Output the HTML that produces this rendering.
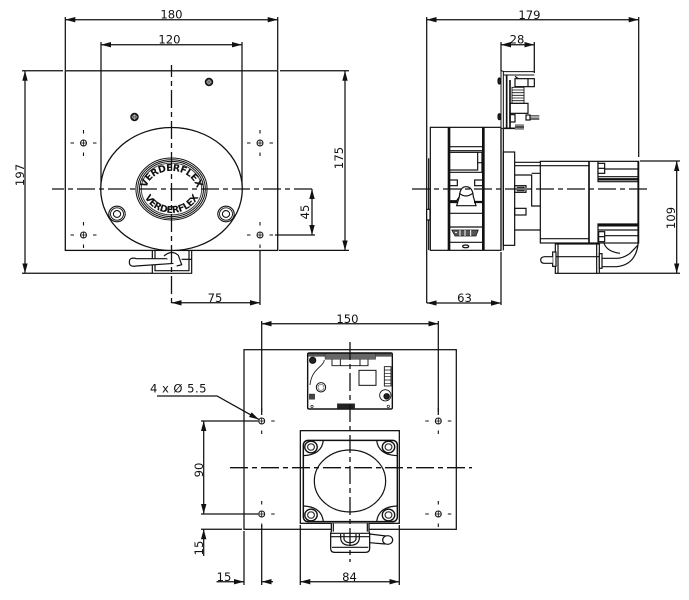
<!DOCTYPE html>
<html><head><meta charset="utf-8"><style>
html,body{margin:0;padding:0;background:#fff;width:689px;height:600px;overflow:hidden}
svg{display:block}
text{font-family:"DejaVu Sans","Liberation Sans",sans-serif;font-size:11.6px;fill:#111;stroke:none}
</style></head><body>
<svg width="689" height="600" viewBox="0 0 689 600" xmlns="http://www.w3.org/2000/svg">
<defs>
<marker id="a" viewBox="0 0 10 6" refX="10" refY="3" markerWidth="10" markerHeight="6" markerUnits="userSpaceOnUse" orient="auto-start-reverse"><path d="M0 0.3L10 3L0 5.7z" fill="#111"/></marker>
<g id="h"><circle r="3" fill="#fff" stroke="#111" stroke-width="1"/><path d="M-3 0H3M0-3V3" stroke="#111" stroke-width=".8"/><path d="M-13 0H-9.5M9.5 0H13M0-13V-9.5M0 9.5V13" stroke="#111" stroke-width="1.1"/></g>
<g id="s"><circle r="3.6" fill="#333"/><circle r="1.8" fill="none" stroke="#ddd" stroke-width=".5"/><path d="M-3 0H3M0-3V3" stroke="#ddd" stroke-width=".4"/></g>
<g id="w"><ellipse rx="8.2" ry="7.8" fill="#fff" stroke="#111" stroke-width="1.1"/><ellipse rx="6.5" ry="6.2" fill="none" stroke="#111" stroke-width=".9"/><ellipse rx="3.6" ry="3.4" fill="none" stroke="#111" stroke-width="1.1"/></g>
<g id="w2"><ellipse rx="6.2" ry="5.8" fill="#fff" stroke="#111" stroke-width="1.4"/><ellipse rx="3.4" ry="3.2" fill="none" stroke="#333" stroke-width="1.2"/></g>
<path id="t1" d="M147.5 199A25.5 21 0 1 1 195.5 199"/>
<path id="t2" d="M142 186A29.5 27 0 0 0 201 186"/>
</defs>

<g fill="none" stroke="#111" stroke-width="1.25">
<!-- TOP LEFT VIEW -->
<rect x="65.3" y="70.8" width="212.4" height="179.6" stroke-width="1.3"/>
<path d="M65.3 17V70M277.7 17V70M101 42V189M242 42V189"/>
<path d="M22 70.8H63M280 70.8H349M279 250.4H349M22 273.3H152M275 235H315M260 250V305" />
<path d="M65.3 19.7H277.7" marker-start="url(#a)" marker-end="url(#a)"/>
<path d="M101 44.7H242" marker-start="url(#a)" marker-end="url(#a)"/>
<path d="M25 70.8V273.3" marker-start="url(#a)" marker-end="url(#a)"/>
<path d="M345 70.8V250.4" marker-start="url(#a)" marker-end="url(#a)"/>
<path d="M312 189V235" marker-start="url(#a)" marker-end="url(#a)"/>
<path d="M171.5 302.8H260" marker-start="url(#a)" marker-end="url(#a)"/>

<!-- handle -->
<g transform="scale(.33333)" stroke-width="3.6">
<path d="M457 751V820H575V751M465 751V812H567V751M465 812H567" />
<path d="M535 776H410Q388 770 388 786Q388 802 408 798L525 790" fill="#fff"/>
<path d="M492 768Q515 748 535 766L545 794L530 798" fill="#fff"/>
<path d="M545 778H575"/>
</g>
<ellipse cx="171.5" cy="189" rx="70.8" ry="61.5" fill="#fff" stroke-width="1.3"/>
<g stroke-width="1">
<ellipse cx="171.5" cy="189" rx="35.6" ry="31"/>
<ellipse cx="171.5" cy="189" rx="33.8" ry="29.3"/>
<ellipse cx="171.5" cy="189" rx="32" ry="27.6"/>
<ellipse cx="171.5" cy="189" rx="30.2" ry="25.9" stroke="#444"/>
</g>
<use href="#w" x="117" y="214"/><use href="#w" x="226" y="214"/>
<use href="#h" x="83.5" y="143"/><use href="#h" x="260" y="143"/><use href="#h" x="83.5" y="235"/><use href="#h" x="260" y="235"/>
<use href="#s" x="134.5" y="117"/><use href="#s" x="209" y="82"/>
<path d="M52 189H315" stroke-dasharray="18 4 5 4" stroke-dashoffset="6" stroke-width="1.3"/>
<path d="M171.5 65V305" stroke-dasharray="18 4 5 4" stroke-dashoffset="6" stroke-width="1.3"/>

<!-- RIGHT VIEW -->
<path d="M426.7 17V303M638.7 17V157M501 42V71M534.3 42V73M501 252V305M640 161H680M600 273.3H680"/>
<path d="M426.7 19.7H638.7" marker-start="url(#a)" marker-end="url(#a)"/>
<path d="M501 44.7H534.3" marker-start="url(#a)" marker-end="url(#a)"/>
<path d="M426.7 303H501" marker-start="url(#a)" marker-end="url(#a)"/>
<path d="M676.7 161V273.3" marker-start="url(#a)" marker-end="url(#a)"/>
<g transform="translate(400 0) scale(.33333)" stroke-width="3.6">
<!-- pump -->
<rect x="91" y="382" width="212" height="369"/>
<path d="M147 382V751M250 382V751" stroke-width="8"/>
<path d="M150 440H248M150 452H248M150 517H248" />
<rect x="148" y="457" width="85" height="53"/>
<path d="M233 457H246V517M233 488H248"/>
<rect x="148" y="540" width="24" height="17"/><rect x="224" y="540" width="26" height="17"/>
<path d="M150 602H170L178 590Q180 560 198 560Q218 560 220 590L228 617H170L178 590M178 580Q198 596 218 580" fill="#fff"/>
<path d="M150 606H172M222 606H250" stroke-width="7"/>
<path d="M150 640H248M150 681H248M150 727H248"/>
<path d="M155 690H235L228 708H165z" fill="#555" stroke-width="2"/>
<path d="M165 697h6M180 690v18M195 690v18M212 690v18" stroke="#fff" stroke-width="3"/>
<ellipse cx="197" cy="739" rx="9" ry="4"/>
<path d="M86 475V750"/><rect x="80" y="628" width="10" height="32" fill="#fff"/>
<!-- plate & pcb -->
<path d="M303 212L310 214V385H303z" fill="#fff" stroke-width="3"/>
<path d="M303 385V751M310 385V751"/>
<ellipse cx="298" cy="243" rx="4" ry="9" fill="#222"/><ellipse cx="298" cy="350" rx="4" ry="9" fill="#222"/>
<path d="M310 215H403M310 225H403" stroke-width="3"/>
<path d="M320 225V385M330 240V385M312 385H345" stroke-width="5"/>
<rect x="345" y="236" width="58" height="24"/><path d="M384 236V260M345 229L355 236"/>
<path d="M336 262H372V310H336zM336 270H372M336 278H372M336 286H372M336 294H372M336 302H372" stroke-width="2.6"/>
<rect x="330" y="310" width="54" height="30"/>
<rect x="330" y="344" width="15" height="22"/>
<rect x="378" y="345" width="12" height="15"/>
<path d="M390 347H418M390 351H418M390 355H418M390 359H418" stroke-width="2"/>
<path d="M345 375H372M345 379H372M345 383H372M345 387H372" stroke-width="2.4"/>
<!-- coupling -->
<rect x="310" y="456" width="34" height="280"/>
<path d="M344 487H421M344 497H421M344 690H421" />
<path d="M344 525H395V618H421M395 520H421" />
<rect x="344" y="557" width="34" height="20"/><path d="M350 562H372V572H350"/>
<rect x="344" y="625" width="34" height="20"/>
<!-- motor -->
<rect x="421" y="484" width="295" height="245"/>
<path d="M421 497H567M421 716H567"/>
<path d="M567 484V729" stroke-width="5"/>
<path d="M594 484V545H714M594 507H714M594 530H714" />
<path d="M594 538H714" stroke-width="7"/>
<rect x="594" y="490" width="20" height="30" fill="#fff"/><path d="M594 505H614"/>
<path d="M594 729V672H714M594 690H714M594 707H714" />
<path d="M594 676H714" stroke-width="7"/>
<rect x="596" y="695" width="18" height="30" fill="#fff"/><path d="M596 710H614"/>
<path d="M714 484V735Q705 795 650 800H606M606 775H650Q670 775 690 760L714 735M612 729Q620 755 660 760"/>
<!-- small motor -->
<rect x="466" y="732" width="132" height="88" fill="#fff"/>
<path d="M474 732V820M590 732V820M466 770H598" />
<rect x="458" y="756" width="10" height="43" fill="#fff"/>
<rect x="598" y="761" width="8" height="44" fill="#fff"/>
<path d="M458 770H434Q422 771 422 780Q422 790 434 790H458" fill="#fff"/>
</g>
<path d="M412 189H651" stroke-dasharray="18 4 5 4" stroke-width="1.2"/>

<!-- BOTTOM VIEW -->
<rect x="244" y="349.7" width="212.3" height="179.6"/>
<path d="M261.7 321V415M438.3 321V415M201 421H258M201 514H258M201 529.3H242M244 531V585M261.7 525V585M300.3 525V585M399.3 525V585"/>
<path d="M261.7 323.7H438.3" marker-start="url(#a)" marker-end="url(#a)"/>
<path d="M203.7 421V514" marker-start="url(#a)" marker-end="url(#a)"/>
<path d="M203.7 529.3V556" marker-start="url(#a)"/>
<path d="M216.5 581.7H244" marker-end="url(#a)"/>
<path d="M261.7 581.7H273" marker-start="url(#a)"/>
<path d="M300.3 581.7H399.3" marker-start="url(#a)" marker-end="url(#a)"/>
<path d="M157 396H217L259 419.5" marker-end="url(#a)"/>
<use href="#h" x="261.7" y="421"/><use href="#h" x="438.3" y="421"/><use href="#h" x="261.7" y="514"/><use href="#h" x="438.3" y="514"/>

<g transform="translate(140 310) scale(.33333)" stroke-width="3.6">
<!-- motor square -->
<rect x="481" y="362" width="297" height="278" fill="#fff" stroke-width="3.8"/>
<rect x="490" y="391" width="282" height="244" rx="14" stroke-width="4.4"/>
<path d="M550 391Q545 435 490 437M710 391Q715 435 772 437M550 635Q545 590 490 588M710 635Q715 590 772 588"/>
<ellipse cx="630" cy="513" rx="107" ry="93"/>
<!-- handle -->
<path d="M574 640V664L572 670V715Q572 727 584 727H676Q689 727 689 715V670L687 664V640" fill="#fff" stroke-width="3.8"/>
<path d="M572 670H689M572 680H689M576 712H685M580 640V665M682 640V665"/>
<path d="M602 672V685Q604 706 630 706Q656 706 658 685V672M612 672V688Q616 698 630 698Q644 698 648 688V672"/>
<path d="M689 672L738 678M689 698L735 702"/>
<ellipse cx="743" cy="690" rx="15" ry="13" fill="#fff"/>
<!-- board -->
<path d="M503 133Q503 129 508 129H753Q757 129 757 133V293Q757 297 753 297H507Q503 297 503 293z" fill="#fff" stroke-width="4.2"/>
<path d="M504 131H757V139H504z" fill="#555" stroke-width="1"/>
<path d="M555 131H707V148H555z" fill="#666" stroke-width="1"/>
<path d="M553 150C550 172 515 175 510 225" stroke-width="2.6"/>
<circle cx="518" cy="151" r="9" fill="#222"/>
<path d="M576 148V167H601V148M660 148V167H684V148M601 167H660" stroke-width="2.8"/>
<rect x="657" y="181" width="51" height="45" stroke-width="3"/>
<rect x="733" y="170" width="20" height="58" stroke-width="2.6"/>
<path d="M733 180H753M733 190H753M733 200H753M733 210H753M733 220H753" stroke-width="2"/>
<circle cx="543" cy="232" r="14" stroke-width="3"/><circle cx="543" cy="232" r="9" stroke-width="2" stroke="#555"/>
<circle cx="736" cy="256" r="17" stroke-width="2.6"/><circle cx="740" cy="259" r="8" fill="#222"/>
<rect x="508" y="252" width="16" height="16" fill="#444" stroke-width="1"/>
<rect x="592" y="281" width="52" height="16" fill="#222" stroke-width="1"/>
<circle cx="516" cy="289" r="3.5" stroke-width="2"/><circle cx="745" cy="289" r="3.5" stroke-width="2"/>
</g>
<use href="#w2" x="311" y="447"/><use href="#w2" x="388.5" y="447"/><use href="#w2" x="311" y="515"/><use href="#w2" x="388.5" y="515"/>
<path d="M230 467.7H472" stroke-dasharray="18 4 5 4" stroke-width="1.3"/>
<path d="M350 342V562" stroke-dasharray="18 4 5 4" stroke-width="1.3"/>
</g>

<!-- labels -->
<text x="171.5" y="18.5" text-anchor="middle">180</text>
<text x="169.5" y="43.5" text-anchor="middle">120</text>
<text x="215" y="302" text-anchor="middle">75</text>
<text transform="translate(24 175) rotate(-90)" text-anchor="middle">197</text>
<text transform="translate(343 158) rotate(-90)" text-anchor="middle">175</text>
<text transform="translate(309 212) rotate(-90)" text-anchor="middle">45</text>
<text x="529.5" y="19" text-anchor="middle">179</text>
<text x="517" y="43.5" text-anchor="middle">28</text>
<text x="464.5" y="302" text-anchor="middle">63</text>
<text transform="translate(675 218) rotate(-90)" text-anchor="middle">109</text>
<text x="347.5" y="323" text-anchor="middle">150</text>
<text x="150" y="392.5" letter-spacing=".45">4 x Ø 5.5</text>
<text transform="translate(203 470) rotate(-90)" text-anchor="middle">90</text>
<text transform="translate(203 548) rotate(-90)" text-anchor="middle">15</text>
<text x="224" y="581" text-anchor="middle">15</text>
<text x="349.5" y="581" text-anchor="middle">84</text>
<text style="font-size:9.5px;font-weight:bold;letter-spacing:-.4px"><textPath href="#t1" startOffset="50%" text-anchor="middle">VERDERFLEX</textPath></text>
<text style="font-size:9.5px;font-weight:bold;letter-spacing:-.4px"><textPath href="#t2" startOffset="50%" text-anchor="middle">VERDERFLEX</textPath></text>
</svg>
</body></html>
